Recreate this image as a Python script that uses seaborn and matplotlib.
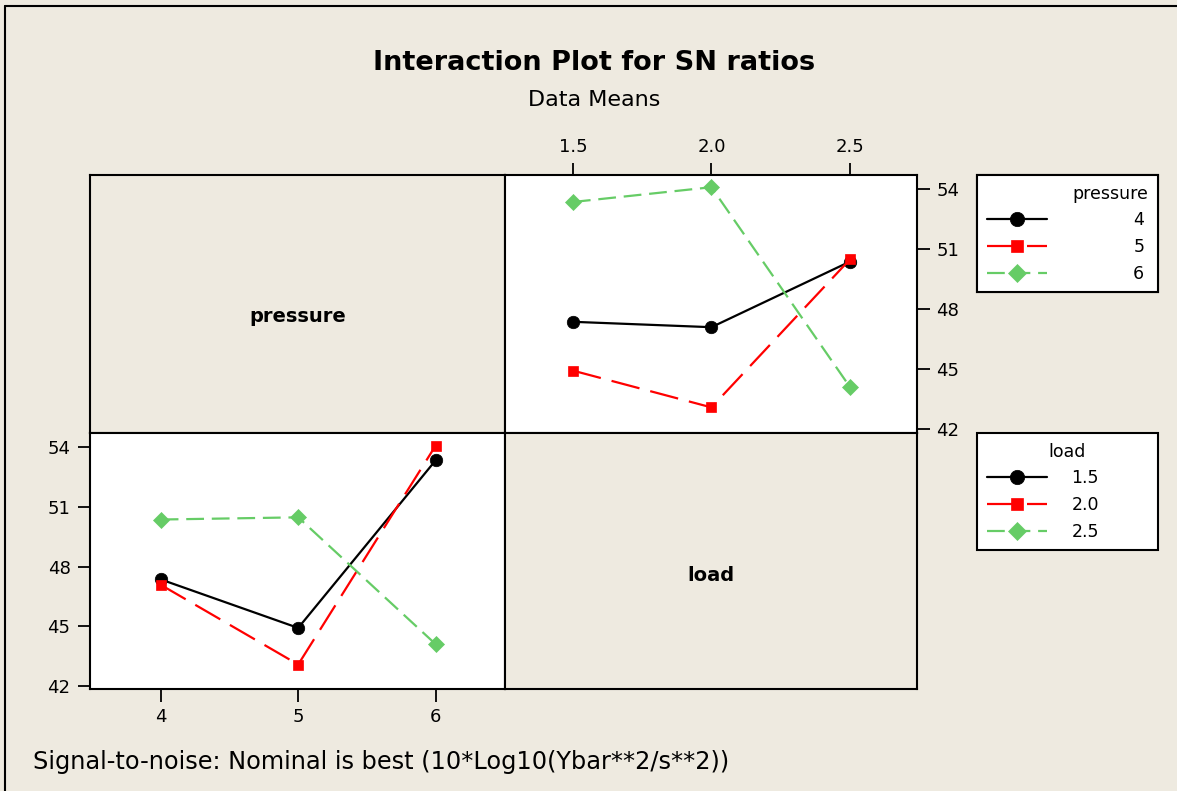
import numpy as np
import pandas as pd
import matplotlib
matplotlib.use("Agg")
import matplotlib.pyplot as plt
import seaborn as sns
from matplotlib.lines import Line2D

# ---------------- data ----------------
pressure_levels = [4, 5, 6]
load_levels = [1.5, 2.0, 2.5]
load_labels = ["1.5", "2.0", "2.5"]
pressure_labels = ["4", "5", "6"]
# SN ratio data means for each pressure level, across load levels 1.5, 2.0, 2.5
sn_p4 = [47.36, 47.09, 50.37]
sn_p5 = [44.92, 43.08, 50.48]
sn_p6 = [53.35, 54.09, 44.10]
y_ticks = [42, 45, 48, 51, 54]

title = "Interaction Plot for SN ratios"
subtitle = "Data Means"
footnote = "Signal-to-noise: Nominal is best (10*Log10(Ybar**2/s**2))"

rows = []
for p, vals in zip(pressure_levels, [sn_p4, sn_p5, sn_p6]):
    for l, v in zip(load_levels, vals):
        rows.append({"pressure": p, "load": l, "sn": v})
df = pd.DataFrame(rows)

# ---------------- style ----------------
BG = "#EEEAE0"
colors = ["#000000", "#FF0000", "#66CC66"]
markers = ["o", "s", "D"]
msizes = [9, 7.2, 8]
dash_patterns = [None, (13, 5), (8, 3.5)]
LW = 1.6

sns.set_theme(style="white")
plt.rcParams['font.family'] = ['DejaVu Sans']
plt.rcParams['text.color'] = 'black'
plt.rcParams['axes.labelcolor'] = 'black'
plt.rcParams['xtick.color'] = 'black'
plt.rcParams['ytick.color'] = 'black'

W, H = 1177, 791
fig = plt.figure(figsize=(W / 100, H / 100), dpi=100, facecolor=BG)


def axes_px(x0, y0, x1, y1):
    return fig.add_axes([x0 / W, 1 - y1 / H, (x1 - x0) / W, (y1 - y0) / H])


ax_tl = axes_px(90, 175, 505, 433)
ax_tr = axes_px(505, 175, 917, 433)
ax_bl = axes_px(90, 433, 505, 689)
ax_br = axes_px(505, 433, 917, 689)

for ax in [ax_tl, ax_tr, ax_bl, ax_br]:
    for s in ax.spines.values():
        s.set_color("black")
        s.set_linewidth(1.5)

for ax in [ax_tl, ax_br]:
    ax.set_facecolor(BG)
    ax.set_xticks([])
    ax.set_yticks([])

ax_tl.text(0.5, 0.45, "pressure", transform=ax_tl.transAxes, ha="center",
           va="center", fontsize=14, fontweight="bold")
ax_br.text(0.5, 0.445, "load", transform=ax_br.transAxes, ha="center",
           va="center", fontsize=14, fontweight="bold")


def draw(ax, xcol, groupcol, levels):
    for i, lev in enumerate(levels):
        sub = df[df[groupcol] == lev]
        sns.lineplot(data=sub, x=xcol, y="sn", ax=ax, color=colors[i],
                     marker=markers[i], markersize=msizes[i],
                     markeredgecolor=colors[i], markeredgewidth=0.5,
                     linewidth=LW, errorbar=None, legend=False)
        line = ax.lines[-1]
        if dash_patterns[i] is not None:
            line.set_dashes(dash_patterns[i])
    ax.set_facecolor("white")
    ax.set_xlabel("")
    ax.set_ylabel("")
    ax.set_yticks(y_ticks)
    ax.set_yticklabels([str(t) for t in y_ticks])


# top-right: x = load, lines by pressure
draw(ax_tr, "load", "pressure", pressure_levels)
ax_tr.set_xticks(load_levels)
ax_tr.set_xticklabels(load_labels)
ax_tr.set_xlim(1.255, 2.742)
ax_tr.set_ylim(41.8, 54.7)
ax_tr.tick_params(top=True, labeltop=True, bottom=False, labelbottom=False,
                  right=True, labelright=True, left=False, labelleft=False,
                  direction="out", length=9, width=1.3, labelsize=13,
                  pad=5, colors="black")

# bottom-left: x = pressure, lines by load
draw(ax_bl, "pressure", "load", load_levels)
ax_bl.set_xticks(pressure_levels)
ax_bl.set_xticklabels(pressure_labels)
ax_bl.set_xlim(3.486, 6.504)
ax_bl.set_ylim(41.85, 54.72)
ax_bl.tick_params(top=False, labeltop=False, bottom=True, labelbottom=True,
                  right=False, labelright=False, left=True, labelleft=True,
                  direction="out", length=9, width=1.3, labelsize=13,
                  pad=5, colors="black")

# ---------------- legends ----------------
leg_common = dict(loc="upper left", bbox_transform=fig.transFigure,
                  mode="expand", borderaxespad=0, fancybox=False,
                  frameon=True, framealpha=1, facecolor="white",
                  edgecolor="black", fontsize=12.5, title_fontsize=12.5,
                  handlelength=3.5, borderpad=0.55, labelspacing=0.5,
                  markerscale=1.15)

leg1 = ax_tr.legend(handles=ax_tr.lines[:3], labels=pressure_labels,
                    title="pressure", alignment="right",
                    bbox_to_anchor=(977 / W, 1 - 297 / H, 181 / W, 122 / H),
                    handletextpad=4.95, **leg_common)
leg1.get_frame().set_linewidth(1.5)
ax_tr.add_artist(leg1)

leg2 = ax_bl.legend(handles=ax_bl.lines[:3], labels=load_labels,
                    title="load", alignment="center",
                    bbox_to_anchor=(977 / W, 1 - 555 / H, 181 / W, 122 / H),
                    handletextpad=1.4, **leg_common)
leg2.get_frame().set_linewidth(1.5)

# ---------------- texts ----------------
fig.text(594 / W, 1 - 63 / H, title, ha="center", va="center",
         fontsize=19.5, fontweight="bold")
fig.text(594 / W, 1 - 100 / H, subtitle, ha="center", va="center",
         fontsize=16)
fig.text(33 / W, 1 - 762 / H, footnote, ha="left", va="center", fontsize=17.3)

# outer frame (left and top edges visible)
fig.add_artist(Line2D([5 / W, 5 / W], [0, 1 - 6 / H], transform=fig.transFigure,
                      color="black", linewidth=1.5))
fig.add_artist(Line2D([5 / W, 1], [1 - 6 / H, 1 - 6 / H],
                      transform=fig.transFigure, color="black", linewidth=1.5))

fig.savefig("out.png", dpi=100, facecolor=BG)
